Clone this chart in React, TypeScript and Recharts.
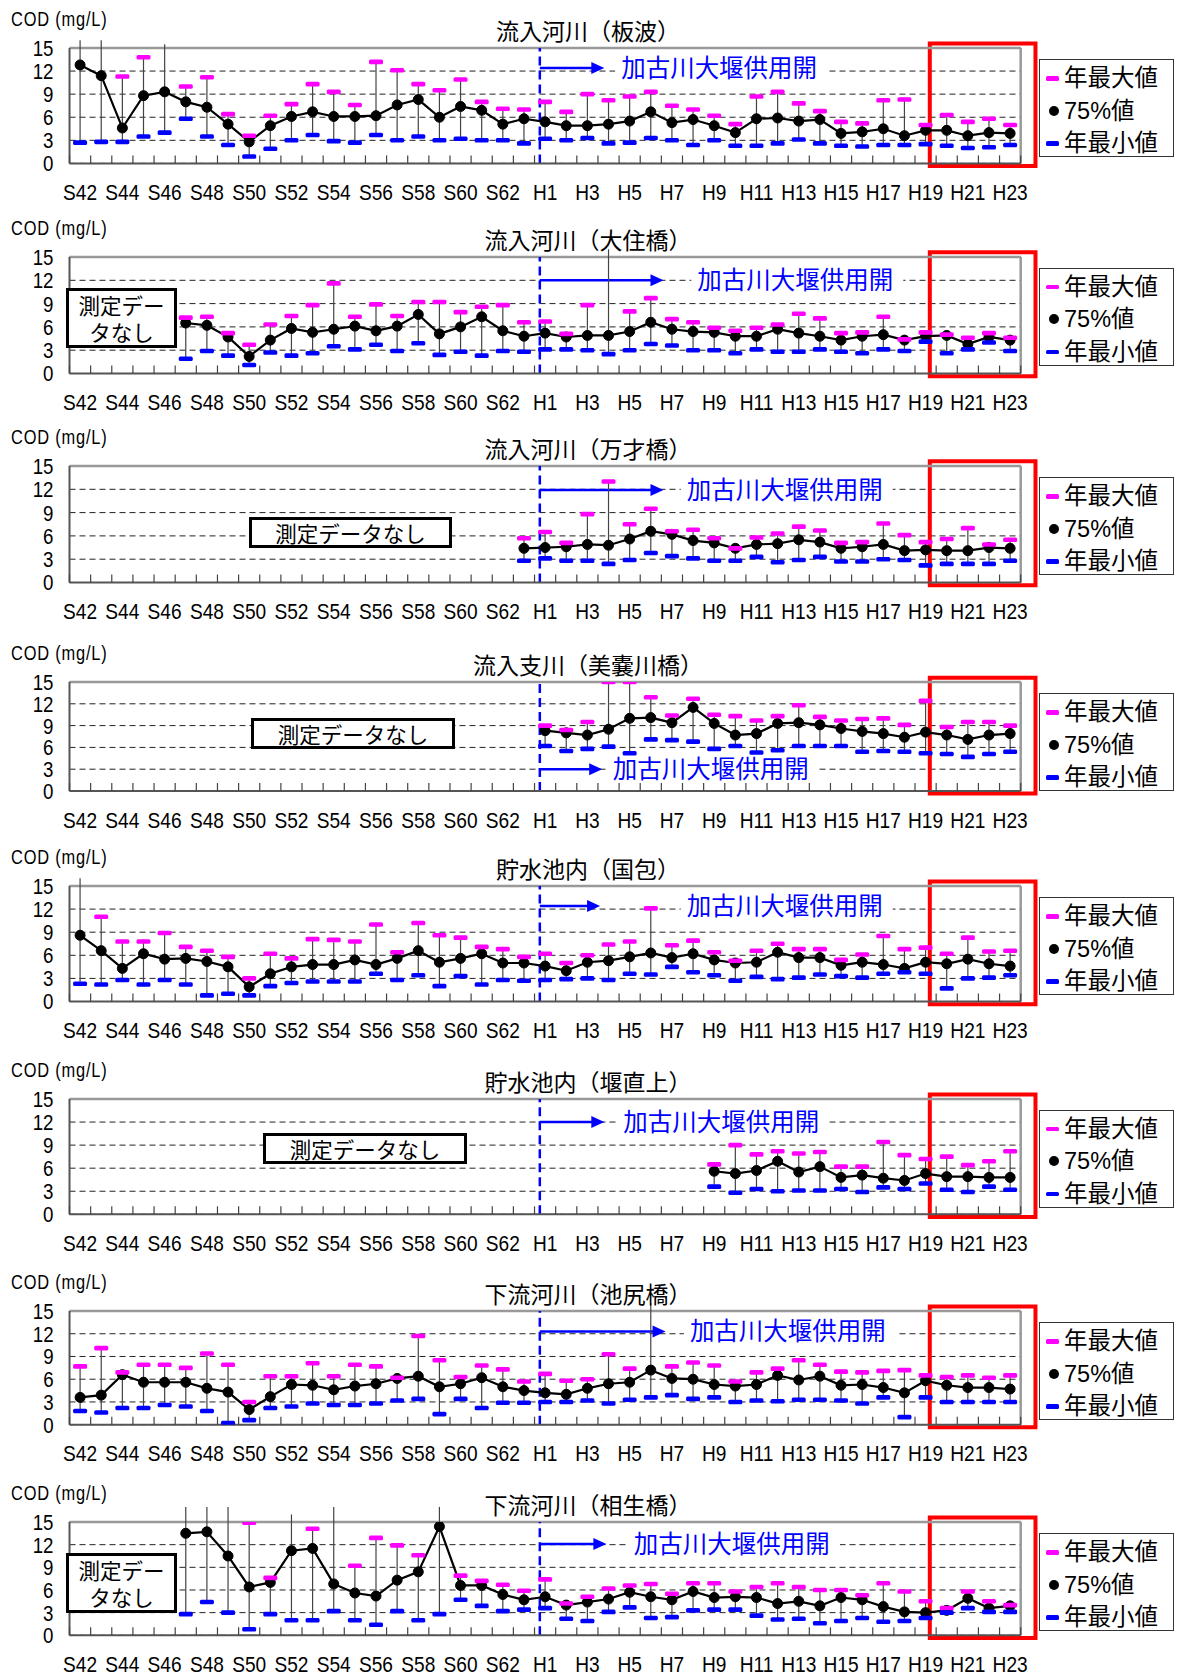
import React from 'react';
import {
  ComposedChart, Line, Scatter, ErrorBar, XAxis, YAxis, CartesianGrid,
  ReferenceLine, ReferenceArea, ReferenceDot,
} from 'recharts';

const NUM_FONT = '"Liberation Sans", Arial, sans-serif';
const JP_FONT = '"Noto Sans CJK JP", "Noto Sans", sans-serif';
const MIX_FONT = '"Liberation Sans", "Noto Sans CJK JP", sans-serif';

const categories = [
  'S42', 'S43', 'S44', 'S45', 'S46', 'S47', 'S48', 'S49', 'S50', 'S51', 'S52',
  'S53', 'S54', 'S55', 'S56', 'S57', 'S58', 'S59', 'S60', 'S61', 'S62', 'S63',
  'H1', 'H2', 'H3', 'H4', 'H5', 'H6', 'H7', 'H8', 'H9', 'H10', 'H11', 'H12',
  'H13', 'H14', 'H15', 'H16', 'H17', 'H18', 'H19', 'H20', 'H21', 'H22', 'H23',
];
const xTickLabels = [
  'S42', 'S44', 'S46', 'S48', 'S50', 'S52', 'S54', 'S56', 'S58', 'S60', 'S62',
  'H1', 'H3', 'H5', 'H7', 'H9', 'H11', 'H13', 'H15', 'H17', 'H19', 'H21', 'H23',
];
const yTicks = [0, 3, 6, 9, 12, 15];
const seriesNames = ['年最大値', '75%値', '年最小値'];
const annotationText = '加古川大堰供用開';
const noDataText = '測定データなし';

const _ = null;

// 流入河川(板波)
const itanamiP75 = [12.8, 11.4, 4.6, 8.8, 9.3, 8.0, 7.3, 5.1, 2.8, 4.9, 6.1, 6.7, 6.1, 6.1, 6.2, 7.6, 8.3, 6.0, 7.4, 6.9, 5.1, 5.8,
  5.4, 4.9, 4.9, 5.1, 5.5, 6.7, 5.3, 5.7, 4.9, 4.0, 5.8, 5.9, 5.5, 5.7, 3.9, 4.1, 4.5, 3.6, 4.3, 4.3, 3.6, 4.0, 3.9];
const itanamiMax = [16, 16, 11.3, 13.8, 15.5, 10.0, 11.2, 6.4, 3.6, 6.2, 7.7, 10.3, 9.3, 7.6, 13.2, 12.1, 10.3, 9.5, 10.9, 8.0, 7.1, 7.0,
  8.0, 6.7, 9.0, 8.2, 8.7, 9.3, 7.5, 7.0, 6.2, 5.1, 8.7, 9.3, 7.8, 6.8, 5.4, 5.2, 8.2, 8.3, 5.0, 6.3, 5.4, 5.8, 5.0];
const itanamiMin = [2.7, 2.8, 2.8, 3.5, 4.0, 5.8, 3.5, 2.4, 0.9, 1.9, 3.0, 3.7, 2.9, 2.7, 3.7, 3.0, 3.5, 3.0, 3.2, 3.0, 3.0, 2.6,
  3.2, 3.0, 3.3, 2.6, 2.7, 3.3, 3.0, 2.4, 3.0, 2.3, 2.3, 2.6, 3.1, 2.6, 2.3, 2.2, 2.4, 2.4, 2.5, 2.3, 2.0, 2.1, 2.4];

// 流入河川(大住橋)
const osumiP75 = [_, _, _, _, _, 6.5, 6.2, 4.7, 2.2, 4.3, 5.8, 5.3, 5.7, 6.1, 5.5, 6.1, 7.6, 5.1, 6.0, 7.3, 5.5, 4.8,
  5.2, 4.7, 4.9, 4.9, 5.4, 6.6, 5.7, 5.4, 5.3, 4.8, 4.8, 5.7, 5.2, 4.8, 4.3, 4.8, 5.0, 4.3, 4.8, 4.9, 3.8, 4.7, 4.3];
const osumiMax = [_, _, _, _, _, 7.2, 7.3, 5.2, 3.7, 6.3, 7.4, 8.8, 11.6, 7.3, 8.9, 7.4, 9.2, 9.2, 7.9, 8.6, 8.8, 6.6,
  6.7, 5.1, 8.8, 16, 8.0, 9.7, 7.0, 6.6, 5.9, 5.5, 5.9, 6.3, 7.7, 7.1, 5.2, 5.3, 7.3, 4.4, 5.3, 5.0, 4.6, 5.2, 4.6];
const osumiMin = [_, _, _, _, _, 1.9, 2.9, 2.3, 1.1, 2.7, 2.3, 2.6, 3.5, 3.1, 3.7, 2.9, 3.9, 2.4, 2.8, 2.3, 2.9, 2.8,
  3.1, 3.1, 3.0, 2.5, 3.0, 3.8, 3.6, 3.0, 3.0, 2.6, 3.1, 2.8, 2.8, 3.1, 2.8, 2.6, 3.1, 2.9, 4.1, 2.6, 3.1, 4.0, 2.9];

// 流入河川(万才橋)
const bansaiP75 = [_, _, _, _, _, _, _, _, _, _, _, _, _, _, _, _, _, _, _, _, _, 4.4,
  4.5, 4.6, 4.9, 4.8, 5.6, 6.6, 6.2, 5.4, 5.1, 4.4, 4.9, 5.0, 5.5, 5.2, 4.4, 4.6, 4.9, 4.1, 4.2, 4.1, 4.1, 4.5, 4.4];
const bansaiMax = [_, _, _, _, _, _, _, _, _, _, _, _, _, _, _, _, _, _, _, _, _, 5.7,
  6.5, 5.1, 8.8, 13.0, 7.5, 9.5, 6.6, 6.8, 5.7, 4.4, 5.8, 6.3, 7.2, 6.7, 5.1, 5.2, 7.6, 6.1, 5.2, 5.6, 7.0, 4.9, 5.5];
const bansaiMin = [_, _, _, _, _, _, _, _, _, _, _, _, _, _, _, _, _, _, _, _, _, 2.8,
  3.1, 2.8, 2.8, 2.4, 2.9, 3.8, 3.4, 3.1, 2.8, 2.8, 3.3, 2.6, 2.9, 3.3, 2.7, 2.7, 3.0, 2.9, 2.2, 2.4, 2.4, 2.4, 2.8];

// 流入支川(美嚢川橋)
const minoP75 = [_, _, _, _, _, _, _, _, _, _, _, _, _, _, _, _, _, _, _, _, _, _,
  8.3, 8.0, 7.7, 8.5, 10.0, 10.1, 9.4, 11.5, 9.3, 7.7, 7.9, 9.3, 9.4, 9.1, 8.6, 8.2, 7.9, 7.4, 8.1, 7.7, 7.1, 7.7, 7.9];
const minoMax = [_, _, _, _, _, _, _, _, _, _, _, _, _, _, _, _, _, _, _, _, _, _,
  9.0, 8.4, 9.5, 15.0, 15.0, 12.9, 10.4, 12.7, 10.5, 10.3, 9.7, 10.3, 11.8, 10.2, 9.7, 9.9, 10.0, 9.1, 12.4, 8.8, 9.5, 9.5, 9.0];
const minoMin = [_, _, _, _, _, _, _, _, _, _, _, _, _, _, _, _, _, _, _, _, _, _,
  6.2, 5.5, 5.8, 6.1, 5.2, 7.1, 7.0, 6.8, 5.8, 6.2, 5.3, 5.6, 6.2, 6.2, 6.2, 5.4, 5.5, 5.4, 5.2, 5.1, 4.7, 5.1, 5.4];

// 貯水池内(国包)
const kunikaneP75 = [8.6, 6.6, 4.3, 6.2, 5.5, 5.6, 5.2, 4.5, 1.9, 3.6, 4.5, 4.8, 4.8, 5.4, 4.8, 5.6, 6.6, 5.1, 5.6, 6.2, 5.0, 5.0,
  4.6, 4.0, 5.1, 5.3, 5.8, 6.3, 5.7, 6.2, 5.4, 5.0, 5.1, 6.4, 5.7, 5.7, 4.7, 5.1, 4.8, 4.3, 5.1, 4.9, 5.5, 4.9, 4.6];
const kunikaneMax = [16, 11.0, 7.8, 7.8, 8.9, 7.1, 6.6, 5.8, 3.0, 6.2, 5.6, 8.1, 8.0, 7.8, 10.0, 6.4, 10.2, 8.6, 8.3, 7.1, 6.8, 5.8,
  6.2, 5.0, 6.0, 7.4, 7.8, 12.1, 7.3, 7.9, 6.4, 5.3, 6.6, 7.5, 6.8, 6.8, 5.4, 6.1, 8.5, 6.8, 7.0, 6.2, 8.3, 6.5, 6.6];
const kunikaneMin = [2.3, 2.2, 2.8, 2.2, 2.8, 2.2, 0.8, 1.0, 0.8, 2.0, 2.4, 2.6, 2.6, 2.6, 3.6, 2.8, 3.4, 2.0, 3.3, 2.2, 2.8, 2.7,
  2.8, 2.9, 3.0, 2.8, 3.6, 3.5, 4.5, 3.8, 3.4, 2.7, 3.2, 2.9, 3.1, 3.5, 3.3, 3.1, 3.6, 3.8, 3.6, 1.7, 3.0, 3.1, 3.4];

// 貯水池内(堰直上)
const sekiP75 = [_, _, _, _, _, _, _, _, _, _, _, _, _, _, _, _, _, _, _, _, _, _,
  _, _, _, _, _, _, _, _, 5.6, 5.3, 5.7, 6.9, 5.5, 6.2, 4.8, 5.1, 4.7, 4.4, 5.3, 4.9, 4.9, 4.8, 4.8];
const sekiMax = [_, _, _, _, _, _, _, _, _, _, _, _, _, _, _, _, _, _, _, _, _, _,
  _, _, _, _, _, _, _, _, 6.5, 9.0, 7.8, 8.2, 7.9, 8.1, 6.2, 6.2, 9.4, 7.7, 7.2, 7.5, 6.4, 6.9, 8.2];
const sekiMin = [_, _, _, _, _, _, _, _, _, _, _, _, _, _, _, _, _, _, _, _, _, _,
  _, _, _, _, _, _, _, _, 3.6, 2.8, 3.3, 3.0, 3.1, 3.1, 3.3, 2.9, 3.5, 3.3, 4.0, 3.2, 2.9, 3.6, 3.2];

// 下流河川(池尻橋)
const ikejiriP75 = [3.6, 3.9, 6.6, 5.6, 5.6, 5.6, 4.8, 4.3, 2.0, 3.7, 5.3, 5.2, 4.6, 5.1, 5.4, 6.1, 6.4, 5.0, 5.4, 6.2, 5.0, 4.5,
  4.2, 4.0, 4.8, 5.4, 5.6, 7.2, 6.1, 6.0, 5.3, 5.1, 5.3, 6.5, 5.9, 6.4, 5.2, 5.3, 4.9, 4.2, 5.8, 5.2, 4.9, 4.9, 4.7];
const ikejiriMax = [7.7, 10.1, 6.9, 7.9, 7.9, 7.5, 9.4, 7.9, 3.0, 6.4, 6.4, 8.1, 6.4, 7.9, 7.7, 6.2, 11.7, 8.5, 6.3, 7.8, 7.3, 5.7,
  6.7, 5.8, 6.0, 9.3, 7.4, 16, 7.7, 8.2, 7.8, 5.7, 6.9, 7.4, 8.5, 7.9, 7.0, 6.9, 7.1, 7.2, 6.5, 6.3, 6.5, 6.2, 6.5];
const ikejiriMin = [1.8, 1.6, 2.2, 2.2, 2.6, 2.4, 1.8, 0.2, 0.6, 2.2, 2.4, 2.8, 2.6, 2.6, 2.8, 3.2, 3.4, 1.4, 3.4, 2.2, 2.9, 2.9,
  3.0, 3.0, 3.2, 2.8, 3.3, 3.6, 3.9, 3.4, 3.6, 3.0, 3.2, 3.1, 3.3, 3.3, 3.2, 2.8, 3.6, 1.0, 3.6, 3.0, 3.0, 3.0, 3.0];

// 下流河川(相生橋)
const aioiP75 = [_, _, _, _, _, 13.5, 13.7, 10.5, 6.4, 7.0, 11.2, 11.5, 6.8, 5.6, 5.2, 7.3, 8.4, 14.4, 6.6, 6.6, 5.4, 4.7,
  5.1, 4.0, 4.4, 4.8, 5.7, 5.1, 4.7, 5.8, 5.0, 5.1, 5.0, 4.2, 4.5, 3.9, 5.0, 4.7, 3.8, 3.1, 3.0, 3.3, 4.9, 3.6, 3.9];
const aioiMax = [_, _, _, _, _, 17, 17, 17, 14.9, 7.6, 16, 14.1, 17, 9.2, 12.9, 11.9, 10.6, 17, 7.9, 7.2, 6.7, 5.9,
  7.4, 4.2, 5.1, 6.2, 6.6, 6.8, 5.5, 6.9, 6.9, 5.8, 6.4, 6.9, 6.4, 6.0, 6.0, 5.3, 6.9, 5.8, 4.5, 3.6, 5.8, 4.5, 4.0];
const aioiMin = [_, _, _, _, _, 2.8, 4.4, 3.0, 0.8, 2.8, 2.0, 2.0, 3.2, 2.0, 1.4, 3.2, 2.0, 2.8, 4.7, 3.9, 3.2, 3.4,
  3.6, 2.2, 1.9, 3.1, 3.7, 2.3, 2.4, 3.3, 3.4, 3.4, 2.6, 2.1, 2.2, 1.6, 1.9, 2.3, 1.8, 1.9, 2.3, 3.0, 3.6, 3.1, 3.1];

type Box = { left: number; top: number; width: number; height: number; lines: string[] };
type PanelCfg = {
  title: string; p75: (number | null)[]; max: (number | null)[]; min: (number | null)[];
  arrowY: number; arrowTip: number; textX: number; axisTop: number; axisBottom: number; noData?: Box;
};

const panels: PanelCfg[] = [
  { title: '流入河川（板波）', p75: itanamiP75, max: itanamiMax, min: itanamiMin, arrowY: 12.4, arrowTip: 24.8, textX: 25.6, axisTop: 48.1, axisBottom: 163.5 },
  { title: '流入河川（大住橋）', p75: osumiP75, max: osumiMax, min: osumiMin, arrowY: 12.0, arrowTip: 27.6, textX: 29.2, axisTop: 256.5, axisBottom: 373,
    noData: { left: 66, top: 79, width: 111, height: 60, lines: ['測定デー', 'タなし'] } },
  { title: '流入河川（万才橋）', p75: bansaiP75, max: bansaiMax, min: bansaiMin, arrowY: 11.9, arrowTip: 27.6, textX: 28.7, axisTop: 466, axisBottom: 582.5,
    noData: { left: 249, top: 99, width: 203, height: 31, lines: [noDataText] } },
  { title: '流入支川（美嚢川橋）', p75: minoP75, max: minoMax, min: minoMin, arrowY: 3.0, arrowTip: 24.7, textX: 25.2, axisTop: 682, axisBottom: 791,
    noData: { left: 251, top: 84, width: 204, height: 31, lines: [noDataText] } },
  { title: '貯水池内（国包）', p75: kunikaneP75, max: kunikaneMax, min: kunikaneMin, arrowY: 12.4, arrowTip: 24.6, textX: 28.7, axisTop: 886, axisBottom: 1001.5 },
  { title: '貯水池内（堰直上）', p75: sekiP75, max: sekiMax, min: sekiMin, arrowY: 12.0, arrowTip: 24.8, textX: 25.7, axisTop: 1098.7, axisBottom: 1214,
    noData: { left: 263, top: 82, width: 204, height: 31, lines: [noDataText] } },
  { title: '下流河川（池尻橋）', p75: ikejiriP75, max: ikejiriMax, min: ikejiriMin, arrowY: 12.3, arrowTip: 27.7, textX: 28.85, axisTop: 1311, axisBottom: 1424.7 },
  { title: '下流河川（相生橋）', p75: aioiP75, max: aioiMax, min: aioiMin, arrowY: 12.1, arrowTip: 24.9, textX: 26.2, axisTop: 1522, axisBottom: 1635.3,
    noData: { left: 66, top: 79, width: 111, height: 60, lines: ['測定デー', 'タなし'] } },
];

const xTicks: number[] = [];
categories.forEach((_c, i) => { xTicks.push(i - 0.5); xTicks.push(i); });
xTicks.push(categories.length - 0.5);

function buildRows(p: PanelCfg) {
  return categories
    .map((label, i) => {
      const v = p.p75[i];
      const hi = p.max[i];
      const lo = p.min[i];
      return {
        x: i, label, p75: v, max: hi, min: lo,
        err: v == null || hi == null || lo == null ? null : [v - lo, hi - v],
      };
    })
    .filter((r) => r.p75 != null);
}

const XTick = (props: any) => {
  const { x, y, payload } = props;
  const v = payload.value as number;
  if (Number.isInteger(v)) {
    const lab = categories[v];
    if (!xTickLabels.includes(lab)) return <g />;
    return (
      <text x={0} y={0} transform={`translate(${x} ${y + 36.5}) scale(0.85 1)`} textAnchor="middle" fontSize={22.5} fontFamily={NUM_FONT} fill="#000">{lab}</text>
    );
  }
  return <line x1={x} y1={y} x2={x} y2={y - 8} stroke="#444" strokeWidth={1.2} />;
};

const YTick = (props: any) => {
  const { x, y, payload } = props;
  return (
    <text x={0} y={0} transform={`translate(${x} ${y}) scale(0.85 1)`} dy="0.36em" textAnchor="end" fontSize={22} fontFamily={NUM_FONT} fill="#000">
      {payload.value}
    </text>
  );
};

const Empty = () => <g />;
const MaxMark = (p: any) => (p.cx == null ? <g /> : <rect x={p.cx - 7} y={p.cy - 2.3} width={14} height={4.6} rx={1.5} fill="#FF00FF" />);
const MinMark = (p: any) => (p.cx == null ? <g /> : <rect x={p.cx - 7} y={p.cy - 2.3} width={14} height={4.6} rx={1.5} fill="#0000FF" />);
const ArrowHead = (p: any) => (
  <polygon points={`${p.cx - 13},${p.cy - 6} ${p.cx},${p.cy} ${p.cx - 13},${p.cy + 6}`} fill="#0000FF" />
);
const AnnotationLabel = (p: any) => (
  <g>
    <rect x={p.cx - 6} y={p.cy - 15} width={212} height={30} fill="#fff" />
    <text x={p.cx} y={p.cy} dy="0.36em" fontSize={24.5} fontFamily={JP_FONT} fill="#0000FF">{annotationText}</text>
  </g>
);

const PLOT_LEFT = 69.5;
const PLOT_RIGHT = 1020.7;
const TOP_PAD = 48;
const XAXIS_H = 48;

function Panel({ cfg }: { cfg: PanelCfg }) {
  const rows = buildRows(cfg);
  const plotH = cfg.axisBottom - cfg.axisTop;
  const height = TOP_PAD + plotH + XAXIS_H;
  const top = cfg.axisTop - TOP_PAD;
  return (
    <div style={{ position: 'absolute', left: 0, top, width: 1180, height }}>
      <ComposedChart
        width={1180}
        height={height}
        data={rows}
        margin={{ top: TOP_PAD, right: 1180 - PLOT_RIGHT, bottom: 0, left: PLOT_LEFT - 60 }}
      >
        <CartesianGrid vertical={false} strokeDasharray="6 4" stroke="#222" strokeWidth={1} />
        <XAxis
          type="number" dataKey="x" domain={[-0.5, categories.length - 0.5]} ticks={xTicks} interval={0}
          allowDataOverflow tick={<XTick />} tickLine={false} tickSize={0} tickMargin={0} height={XAXIS_H}
          axisLine={{ stroke: '#555', strokeWidth: 2 }}
        />
        <YAxis
          type="number" domain={[0, 15]} ticks={yTicks} interval={0} allowDataOverflow width={60} tickLine={false}
          tickMargin={10} axisLine={{ stroke: '#555', strokeWidth: 2 }}
          tick={<YTick />}
        />
        <ReferenceLine y={15} stroke="#999" strokeWidth={2.5} ifOverflow="visible" />
        <ReferenceLine x={categories.length - 0.5} stroke="#999" strokeWidth={2.5} ifOverflow="visible" />
        <ReferenceLine x={21.75} stroke="#0000FF" strokeWidth={2.5} strokeDasharray="9 5" />
        <ReferenceLine
          segment={[{ x: 21.75, y: cfg.arrowY }, { x: cfg.arrowTip - 0.3, y: cfg.arrowY }]}
          stroke="#0000FF" strokeWidth={2.5}
        />
        <ReferenceDot x={cfg.arrowTip} y={cfg.arrowY} shape={ArrowHead} />
        <ReferenceDot x={cfg.textX} y={cfg.arrowY} shape={AnnotationLabel} />
        <Scatter name="range" dataKey="p75" shape={Empty} isAnimationActive={false} legendType="none">
          <ErrorBar dataKey="err" direction="y" width={0} stroke="#444" strokeWidth={1.2} />
        </Scatter>
        <Line
          name={seriesNames[1]} dataKey="p75" stroke="#000" strokeWidth={2.2}
          dot={{ r: 5, fill: '#000', stroke: '#000', strokeWidth: 1 }} isAnimationActive={false}
        />
        <Scatter name={seriesNames[0]} dataKey="max" shape={MaxMark} isAnimationActive={false} />
        <Scatter name={seriesNames[2]} dataKey="min" shape={MinMark} isAnimationActive={false} />
        <ReferenceArea
          x1={40.2} x2={45.2} y1={-0.35} y2={15.6} fill="none" stroke="#FF0000" strokeWidth={4}
          ifOverflow="visible"
        />
      </ComposedChart>
      <div style={{ position: 'absolute', left: 11, top: 7, fontFamily: NUM_FONT, fontSize: 20, color: '#000', lineHeight: '24px', whiteSpace: 'nowrap', transform: 'scaleX(0.82)', transformOrigin: '0 0', letterSpacing: 1 }}>
        COD (mg/L)
      </div>
      <div style={{ position: 'absolute', left: 388, width: 400, top: 15, textAlign: 'center', fontFamily: JP_FONT, fontSize: 23, color: '#000', lineHeight: '30px', whiteSpace: 'nowrap' }}>
        {cfg.title}
      </div>
      {cfg.noData && (
        <div style={{
          position: 'absolute', left: cfg.noData.left, top: cfg.noData.top, width: cfg.noData.width, height: cfg.noData.height,
          boxSizing: 'border-box', border: '3px solid #000', background: '#fff', fontFamily: JP_FONT, fontSize: 21.5,
          lineHeight: '27px', textAlign: 'center', color: '#000',
          display: 'flex', flexDirection: 'column', justifyContent: 'center',
        }}>
          {cfg.noData.lines.map((l) => <div key={l}>{l}</div>)}
        </div>
      )}
      <div style={{ position: 'absolute', left: 1039, top: 59, width: 135, height: 98, boxSizing: 'border-box', border: '1px solid #333', background: '#fff' }}>
        {[0, 1, 2].map((k) => (
          <div key={k} style={{ position: 'absolute', left: 0, top: 3 + k * 32.5, height: 30, width: 133 }}>
            {k === 1 ? (
              <div style={{ position: 'absolute', left: 9, top: 10, width: 10, height: 10, borderRadius: 5, background: '#000' }} />
            ) : (
              <div style={{ position: 'absolute', left: 6, top: 13, width: 13, height: 4.5, borderRadius: 1.5, background: k === 0 ? '#FF00FF' : '#0000FF' }} />
            )}
            <div style={{ position: 'absolute', left: 24, top: 0, lineHeight: '30px', fontSize: 23.5, fontFamily: MIX_FONT, color: '#000', whiteSpace: 'nowrap' }}>
              {seriesNames[k]}
            </div>
          </div>
        ))}
      </div>
    </div>
  );
}

export default function App() {
  return (
    <div style={{ position: 'absolute', left: 0, top: 0, width: 1180, height: 1676, overflow: 'hidden', background: '#fff' }}>
      {panels.map((p) => <Panel key={p.title} cfg={p} />)}
    </div>
  );
}
